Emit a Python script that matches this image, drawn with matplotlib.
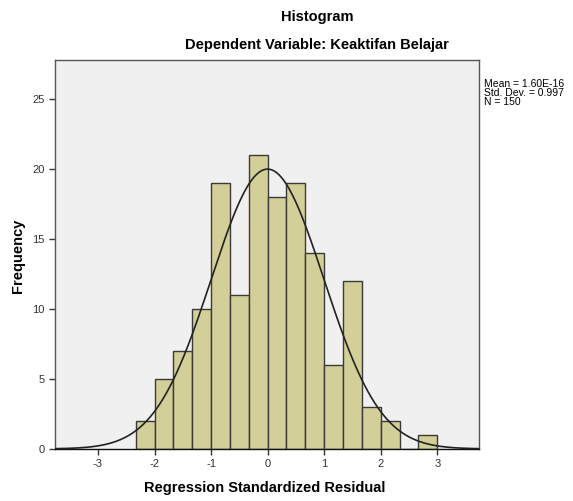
#!/usr/bin/env python3

import matplotlib
matplotlib.use('Agg')

import matplotlib.pyplot as plt
import numpy as np


# histogram counts (bin width 1/3, first edge at -7/3)
counts = [2, 5, 7, 10, 19, 11, 21, 18, 19, 14, 6, 12, 3, 2, 0, 1]
bin_start = -7.0 / 3
bin_width = 1.0 / 3

mean = 1.60e-16
std = 0.997
n = 150

xticks = [-3, -2, -1, 0, 1, 2, 3]
yticks = [0, 5, 10, 15, 20, 25]
stats_lines = ["Mean = 1.60E-16", "Std. Dev. = 0.997", "N = 150"]


def main():
    plt.rcParams['font.family'] = ['Liberation Sans', 'DejaVu Sans']
    plt.rcParams['axes.unicode_minus'] = False

    fig = plt.figure(figsize=(5.73, 5.01), dpi=100)
    ax = fig.add_axes([0.096, 0.104, 0.740, 0.776])
    ax.set_facecolor('#F0F0F0')

    edges = bin_start + bin_width * np.arange(len(counts))
    ax.bar(edges, counts, width=bin_width, align='edge',
           color='#D3CF98', edgecolor='#3a3a3a', linewidth=1.0, zorder=2)

    xs = np.linspace(-3.75, 3.75, 400)
    ys = n * bin_width * np.exp(-0.5 * ((xs - mean) / std) ** 2) / (std * np.sqrt(2 * np.pi))
    ax.plot(xs, ys, color='#222222', linewidth=1.2, zorder=3)

    ax.set_xlim(-3.76, 3.74)
    ax.set_ylim(0, 27.8)
    ax.set_xticks(xticks)
    ax.set_yticks(yticks)
    ax.tick_params(labelsize=8, colors='#333333', length=4, width=1, direction='out')
    for s in ax.spines.values():
        s.set_color('#555555')
        s.set_linewidth(1.0)
    ax.spines['bottom'].set_color('#111111')

    fig.text(0.462, 0.026, "Regression Standardized Residual", ha='center',
             va='center', fontsize=10.5, fontweight='bold')
    fig.text(0.031, 0.49, "Frequency", ha='center', va='center', rotation=90,
             fontsize=10.5, fontweight='bold')

    fig.text(0.553, 0.966, "Histogram", ha='center', va='center',
             fontsize=10.5, fontweight='bold')
    fig.text(0.553, 0.91, "Dependent Variable: Keaktifan Belajar", ha='center',
             va='center', fontsize=10.5, fontweight='bold')

    fig.text(0.845, 0.814, "\n".join(stats_lines), ha='left', va='center',
             fontsize=7.5, linespacing=0.9)

    fig.savefig('out.png', dpi=100)
    plt.close(fig)


if __name__ == "__main__":
    main()
